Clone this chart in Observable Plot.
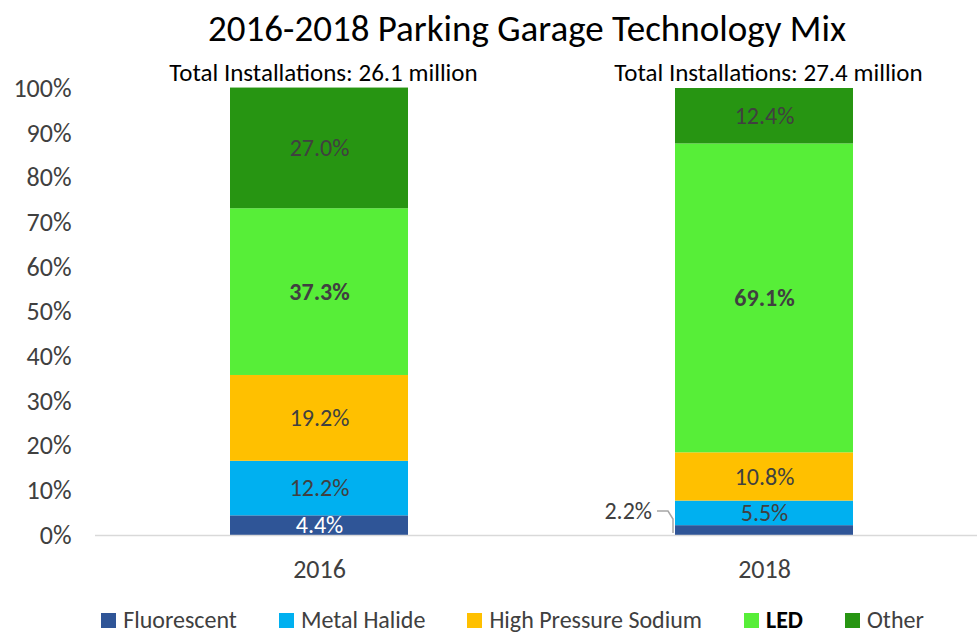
<!DOCTYPE html>
<html>
<head>
<meta charset="utf-8">
<script src="https://cdn.jsdelivr.net/npm/d3@7"></script>
<script src="https://cdn.jsdelivr.net/npm/@observablehq/plot@0.6"></script>
<style>
  body { margin: 0; background: #fff; font-family: Carlito, Lato, "Open Sans", sans-serif; }
  #wrap { width: 977px; height: 636px; overflow: hidden; }
  #title { height: 56px; box-sizing: border-box; padding: 9px 0 0 77px; text-align: center; font-size: 37px; color: #000; line-height: 40px; white-space: nowrap; }
  #legend { height: 40px; width: 977px; display: flex; justify-content: center; align-items: center; padding: 8px 0 0 48px; box-sizing: border-box; font-size: 24px; line-height: 28px; color: #404040; white-space: nowrap; gap: 42px; }
  .item { display: flex; align-items: center; flex: none; }
  .sw { width: 15px; height: 15px; margin-right: 7px; }
</style>
</head>
<body>
<div id="wrap">
  <div id="title">2016-2018 Parking Garage Technology Mix</div>
  <div id="chart"></div>
  <div id="legend"></div>
</div>
<script>
const years = ["2016", "2018"];
const techs = ["Fluorescent", "Metal Halide", "High Pressure Sodium", "LED", "Other"];
const values2016 = [4.4, 12.2, 19.2, 37.3, 27.0];
const values2018 = [2.2, 5.5, 10.8, 69.1, 12.4];
const totals = ["Total Installations: 26.1 million", "Total Installations: 27.4 million"];
const colors = ["#2f5597", "#00b0f0", "#ffc000", "#57ee38", "#279512"];
const yTicks = [0, 10, 20, 30, 40, 50, 60, 70, 80, 90, 100];

const seriesByYear = {"2016": values2016, "2018": values2018};
const rows = [];
for (const y of years) techs.forEach((t, i) => rows.push({year: y, tech: t, value: seriesByYear[y][i]}));
const fmt = v => v.toFixed(1) + "%";
const isCallout = d => d.year === "2018" && d.tech === "Fluorescent";

const stackOpts = {x: "year", y: "value", z: "tech", order: techs};

const callout = (index, scales) => {
  const x = scales.x, y = scales.y;
  const d = rows.find(isCallout);
  const left = x("2018");
  const ym = y(d.value / 2);
  const yl = ym - 19;
  const g = d3.create("svg:g");
  g.append("path")
    .attr("d", `M${left - 18},${yl} H${left - 7} L${left - 2},${yl + 8} V${ym + 3}`)
    .attr("fill", "none").attr("stroke", "#a6a6a6").attr("stroke-width", 1.5);
  g.append("text")
    .attr("x", left - 23).attr("y", yl).attr("dy", "0.35em")
    .attr("text-anchor", "end").attr("fill", "#404040")
    .attr("font-size", 24).text(fmt(d.value));
  return g.node();
};

const chart = Plot.plot({
  width: 977,
  height: 540,
  marginTop: 32,
  marginBottom: 61,
  marginLeft: 95,
  marginRight: 0,
  style: {fontFamily: "Carlito, Lato, 'Open Sans', sans-serif", background: "#fff", overflow: "visible"},
  x: {type: "band", domain: years, paddingInner: 0.6, paddingOuter: 0.291, align: 0.52, label: null},
  y: {domain: [0, 100], label: null},
  color: {domain: techs, range: colors},
  marks: [
    Plot.axisY({ticks: yTicks, tickSize: 0, tickPadding: 24, tickFormat: d => d + "%", fontSize: 26, fill: "#404040", label: null}),
    Plot.axisX({tickSize: 0, tickPadding: 24, fontSize: 26, fill: "#404040", label: null}),
    Plot.barY(rows, Plot.stackY({...stackOpts, fill: "tech", inset: 0})),
    Plot.ruleY([0], {stroke: "#d9d9d9", strokeWidth: 1.5}),
    Plot.text(rows, Plot.stackY({...stackOpts,
      text: d => (d.tech === "LED" || isCallout(d)) ? "" : fmt(d.value),
      fill: d => (d.year === "2016" && d.tech === "Fluorescent") ? "#ffffff" : "#404040",
      fontSize: 24})),
    Plot.text(rows, Plot.stackY({...stackOpts,
      text: d => d.tech === "LED" ? fmt(d.value) : "",
      fill: "#404040", fontWeight: "bold", fontSize: 24})),
    Plot.text(years.map((y, i) => ({year: y, label: totals[i], top: 100})),
      {x: "year", y: "top", text: "label", dy: -16, dx: 4, fontSize: 25, fill: "#000"}),
    callout
  ]
});
document.getElementById("chart").appendChild(chart);

const legend = document.getElementById("legend");
techs.forEach((t, i) => {
  const it = document.createElement("div");
  it.className = "item";
  const sw = document.createElement("div");
  sw.className = "sw";
  sw.style.background = colors[i];
  const lab = document.createElement("span");
  lab.textContent = t;
  if (t === "LED") { lab.style.fontWeight = "bold"; lab.style.color = "#000"; }
  it.appendChild(sw); it.appendChild(lab);
  legend.appendChild(it);
});
</script>
</body>
</html>
